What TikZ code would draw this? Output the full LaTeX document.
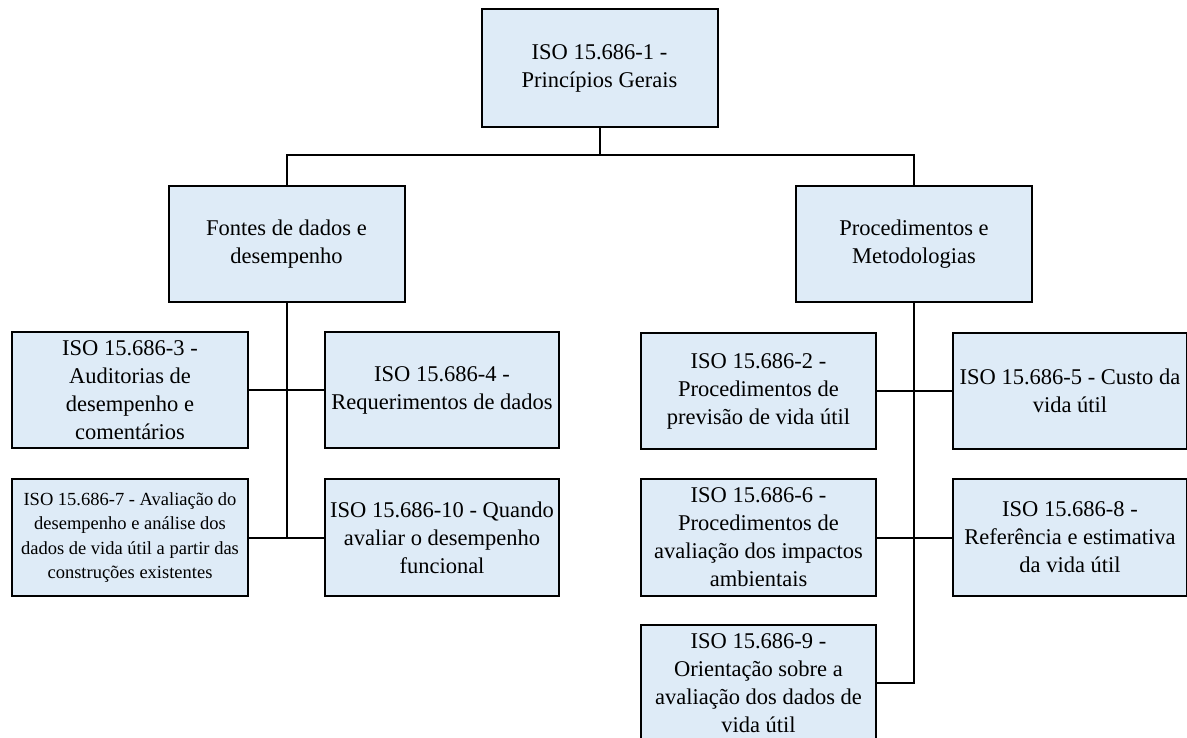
\documentclass[tikz,border=0pt]{standalone}
\usepackage{fontspec}
\setmainfont{Liberation Serif}
\usetikzlibrary{positioning}
\definecolor{boxblue}{HTML}{DEEBF7}
\tikzset{
  isobox/.style={draw=black, line width=2pt, fill=boxblue, align=center,
    minimum width=236pt, minimum height=116pt, inner sep=2pt,
    font=\fontsize{22.5}{28}\selectfont},
  smallbox/.style={isobox, font=\fontsize{18.5}{24.5}\selectfont},
  link/.style={line width=2pt}
}
\begin{document}
\begin{tikzpicture}[x=1pt, y=-1pt]
  \useasboundingbox (0,0) rectangle (1187,738);
  \node[isobox, minimum height=118pt] (p1) at (599.5,68.5) {ISO 15.686-1 -\\Princípios Gerais};
  \node[isobox] (fontes) at (286.5,244) {Fontes de dados e\\desempenho};
  \node[isobox] (proc) at (914,244) {Procedimentos e\\Metodologias};
  \node[isobox] (p3) at (130,390) {ISO 15.686-3 -\\Auditorias de\\desempenho e\\comentários};
  \node[isobox, minimum width=234pt] (p4) at (442,390) {ISO 15.686-4 -\\Requerimentos de dados};
  \node[smallbox, minimum height=117pt] (p7) at (130,537.5) {ISO 15.686-7 - Avaliação do\\desempenho e análise dos\\dados de vida útil a partir das\\construções existentes};
  \node[isobox, minimum width=234pt, minimum height=117pt] (p10) at (442,537.5) {ISO 15.686-10 - Quando\\avaliar o desempenho\\funcional};
  \node[isobox, minimum width=235pt] (p2) at (758.5,391) {ISO 15.686-2 -\\Procedimentos de\\previsão de vida útil};
  \node[isobox, minimum width=234pt] (p5) at (1070,391) {ISO 15.686-5 - Custo da\\vida útil};
  \node[isobox, minimum width=235pt, minimum height=117pt] (p6) at (758.5,537.5) {ISO 15.686-6 -\\Procedimentos de\\avaliação dos impactos\\ambientais};
  \node[isobox, minimum width=234pt, minimum height=117pt] (p8) at (1070,537.5) {ISO 15.686-8 -\\Referência e estimativa\\da vida útil};
  \node[isobox, minimum width=235pt] (p9) at (758.5,683) {ISO 15.686-9 -\\Orientação sobre a\\avaliação dos dados de\\vida útil};
  \draw[link] (p1.south) -- ++(0,27) coordinate (bar);
  \draw[link] (fontes.north) |- (bar) -| (proc.north);
  \draw[link] (fontes.south) |- (p7.east);
  \draw[link] (p3.east) -- (p4.west);
  \draw[link] (p7.east) -- (p10.west);
  \draw[link] (proc.south) |- (p9.east);
  \draw[link] (p2.east) -- (p5.west);
  \draw[link] (p6.east) -- (p8.west);
\end{tikzpicture}
\end{document}
